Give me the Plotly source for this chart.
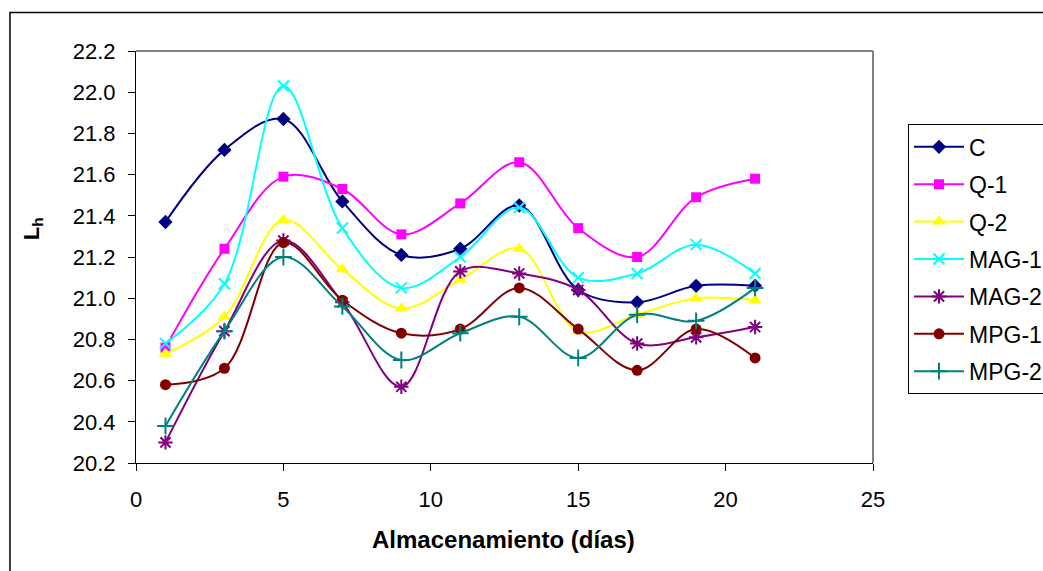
import plotly.graph_objects as go

dias = [1, 3, 5, 7, 9, 11, 13, 15, 17, 19, 21]

C     = [21.37, 21.72, 21.87, 21.47, 21.21, 21.24, 21.45, 21.04, 20.98, 21.06, 21.06]
Q1    = [20.76, 21.24, 21.59, 21.53, 21.31, 21.46, 21.66, 21.34, 21.20, 21.49, 21.58]
Q2    = [20.73, 20.91, 21.38, 21.14, 20.95, 21.09, 21.24, 20.84, 20.92, 21.00, 20.99]
MAG1  = [20.78, 21.07, 22.03, 21.34, 21.05, 21.20, 21.44, 21.10, 21.12, 21.26, 21.12]
MAG2  = [20.30, 20.84, 21.28, 20.98, 20.57, 21.13, 21.12, 21.04, 20.78, 20.81, 20.86]
MPG1  = [20.58, 20.66, 21.27, 20.99, 20.83, 20.85, 21.05, 20.85, 20.65, 20.85, 20.71]
MPG2  = [20.38, 20.84, 21.20, 20.96, 20.70, 20.83, 20.91, 20.71, 20.92, 20.89, 21.05]

names   = ["C", "Q-1", "Q-2", "MAG-1", "MAG-2", "MPG-1", "MPG-2"]
series  = [C, Q1, Q2, MAG1, MAG2, MPG1, MPG2]
colors  = ["#000080", "#FF00FF", "#FFFF00", "#00FFFF", "#800080", "#800000", "#008080"]
symbols = ["diamond", "square", "triangle-up", "x-thin", "asterisk", "circle", "cross-thin"]
sizes   = [11, 10, 12, 11, 12, 11, 12]

x_ticks = [0, 5, 10, 15, 20, 25]
y_ticks = [20.2, 20.4, 20.6, 20.8, 21.0, 21.2, 21.4, 21.6, 21.8, 22.0, 22.2]

FONT = "Liberation Sans, Arial, sans-serif"

fig = go.Figure()
for i, (n, s, c, sym, sz) in enumerate(zip(names, series, colors, symbols, sizes)):
    thin = sym in ("x-thin", "asterisk", "cross-thin")
    fig.add_trace(go.Scatter(
        x=dias, y=s, name=n, mode="lines+markers",
        legendgroup=n,
        line=dict(color=c, width=2, shape="spline", smoothing=1.0),
        marker=dict(symbol=sym, size=sz, color=c,
                    line=dict(color=c, width=2 if thin else 0)),
    ))

fig.update_layout(
    width=1043, height=571,
    margin=dict(l=136, r=170, t=50.5, b=107.5, autoexpand=False),
    paper_bgcolor="white", plot_bgcolor="white",
    font=dict(family=FONT, size=22, color="black"),
    showlegend=True,
    legend=dict(
        x=1.0475, y=0.822, xanchor="left", yanchor="top",
        bordercolor="black", borderwidth=1, bgcolor="white",
        font=dict(family=FONT, size=23, color="black"),
        tracegroupgap=4.5, itemwidth=50,
    ),
    xaxis=dict(
        range=[0, 25], tickvals=x_ticks, ticktext=[str(v) for v in x_ticks],
        showgrid=False, zeroline=False, showline=True, linecolor="black", linewidth=1,
        ticks="outside", ticklen=7, tickcolor="black", tickwidth=1,
        tickfont=dict(family=FONT, size=22), ticklabelstandoff=10,
    ),
    yaxis=dict(
        range=[20.2, 22.2], tickvals=y_ticks, ticktext=[f"{v:.1f}" for v in y_ticks],
        showgrid=False, zeroline=False, showline=True, linecolor="black", linewidth=1,
        ticks="outside", ticklen=7, tickcolor="black", tickwidth=1,
        tickfont=dict(family=FONT, size=22), ticklabelstandoff=8,
    ),
    annotations=[
        dict(text="<b>Almacenamiento (días)</b>", xref="paper", yref="paper",
             x=0.4993, y=-0.185, showarrow=False, xanchor="center", yanchor="middle",
             font=dict(family=FONT, size=24, color="black")),
        dict(text="<b>L<sub>h</sub></b>", xref="paper", yref="paper",
             x=-0.1398, y=0.570, showarrow=False, xanchor="center", yanchor="middle",
             textangle=-90, font=dict(family=FONT, size=22, color="black")),
    ],
    shapes=[
        dict(type="line", xref="paper", yref="paper", x0=0, x1=1, y0=1, y1=1,
             line=dict(color="#808080", width=2)),
        dict(type="line", xref="paper", yref="paper", x0=1, x1=1, y0=0, y1=1,
             line=dict(color="#808080", width=2)),
        dict(type="rect", xref="paper", yref="paper", x0=-0.171, x1=2.0, y0=-0.6, y1=1.0932,
             line=dict(color="black", width=1.5), fillcolor="rgba(0,0,0,0)", layer="below"),
    ],
)

fig.write_html("out.html")
